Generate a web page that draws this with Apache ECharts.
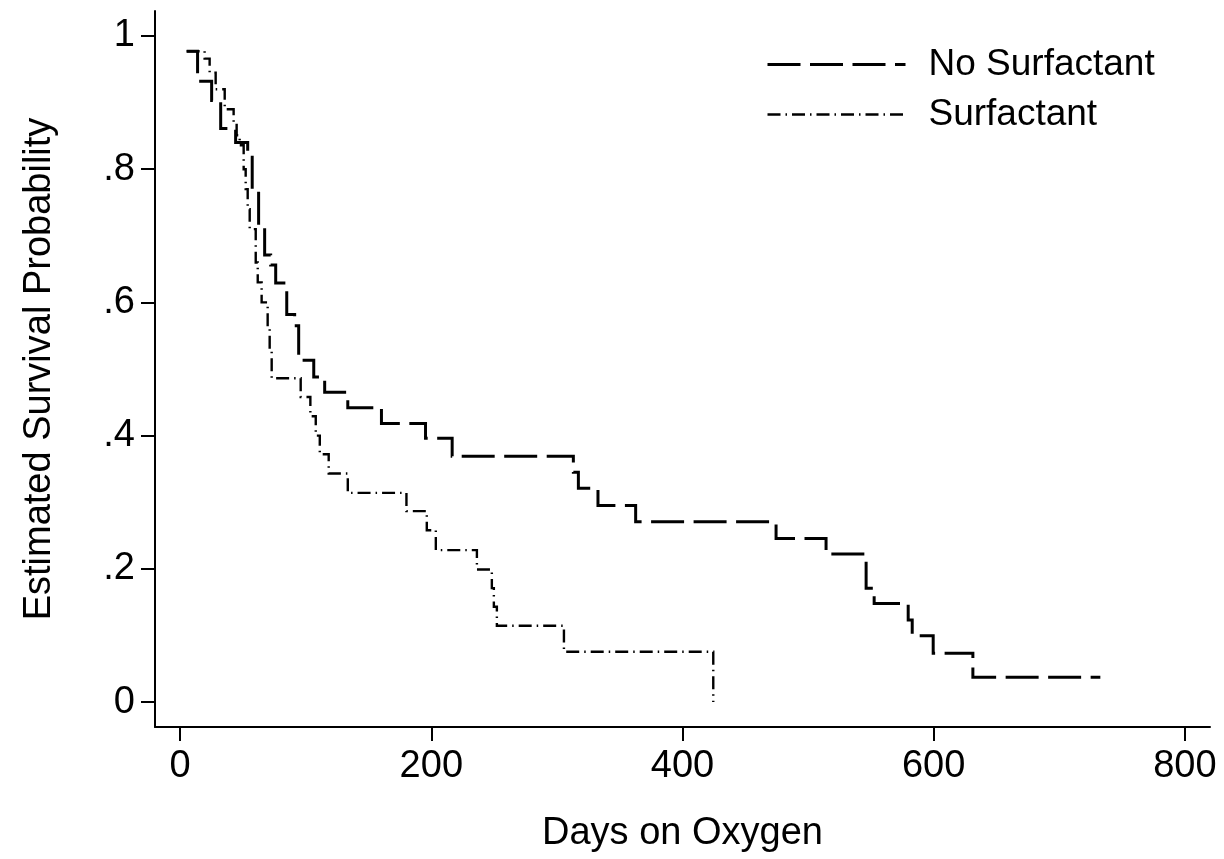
<!DOCTYPE html>
<html>
<head>
<meta charset="utf-8">
<script src="https://cdn.jsdelivr.net/npm/echarts@6/dist/echarts.min.js"></script>
<style>html,body{margin:0;padding:0;background:#fff}#chart{width:1224px;height:859px}</style>
</head>
<body>
<div id="chart"></div>
<script>
// Kaplan-Meier step data: [day, survival after that day]
const noSurfDays = [5.2, 13.9, 25.1, 32.3, 44.2, 53.8, 57.4, 62.5, 67.3, 72.1, 76.1, 84.9, 91.2, 94.4, 106.4, 115.1, 133.5, 160.3, 195.4, 216.6, 313.1, 317.1, 332.7, 362.7, 474.5, 514.3, 546.2, 552.6, 579.7, 582.9, 599.6, 631.2, 732.7];
const noSurfSurv = [0.977, 0.932, 0.903, 0.861, 0.840, 0.818, 0.770, 0.716, 0.671, 0.656, 0.629, 0.582, 0.565, 0.513, 0.488, 0.465, 0.442, 0.418, 0.396, 0.369, 0.345, 0.321, 0.295, 0.2705, 0.2456, 0.2221, 0.171, 0.148, 0.123, 0.0995, 0.0731, 0.0371, 0.0371];
const surfDays = [5.2, 19.5, 23.5, 28.3, 35.5, 42.6, 45.0, 47.4, 50.6, 52.2, 53.8, 55.4, 60.2, 61.8, 64.9, 69.7, 71.3, 72.9, 96.0, 103.7, 108.0, 111.2, 118.3, 133.5, 180.2, 196.4, 203.6, 236.3, 248.2, 249.8, 252.2, 305.6, 424.5];
const surfSurv = [0.977, 0.966, 0.945, 0.92, 0.89, 0.87, 0.851, 0.836, 0.80, 0.77, 0.74, 0.71, 0.66, 0.63, 0.60, 0.56, 0.53, 0.486, 0.458, 0.429, 0.40, 0.372, 0.343, 0.314, 0.2866, 0.258, 0.228, 0.199, 0.171, 0.143, 0.1145, 0.0755, 0];
const seriesNames = ['No Surfactant', 'Surfactant'];
const xTicks = [0, 200, 400, 600, 800];
const yTicks = [0, 0.2, 0.4, 0.6, 0.8, 1];
const yTickLabels = ['0', '.2', '.4', '.6', '.8', '1'];
const xTitle = 'Days on Oxygen';
const yTitle = 'Estimated Survival Probability';

const zip = (a, b) => a.map((v, i) => [v, b[i]]);
const FONT = '"Liberation Sans", Arial, Helvetica, sans-serif';
const thickStyle = {color: '#000', width: 3, type: [33, 9.5], cap: 'butt', join: 'miter'};
const thinStyle = {color: '#000', width: 2.4, type: [13, 5, 1.5, 5], cap: 'butt', join: 'miter'};
const chart = echarts.init(document.getElementById('chart'), null, {renderer: 'canvas'});
chart.setOption({
  animation: false,
  backgroundColor: '#fff',
  textStyle: {fontFamily: FONT, color: '#000'},
  grid: {left: 155, right: 14, top: 11, bottom: 132, containLabel: false},
  legend: {
    show: true, orient: 'vertical', left: 761, top: 41, itemWidth: 138, itemHeight: 14, itemGap: 13,
    data: [
      {name: seriesNames[0], lineStyle: thickStyle},
      {name: seriesNames[1], lineStyle: thinStyle}
    ],
    itemStyle: {opacity: 0},
    textStyle: {fontFamily: FONT, fontSize: 37, color: '#000', padding: [0, 0, 0, 18]}
  },
  xAxis: {
    type: 'value', min: -20, max: 820,
    name: xTitle, nameLocation: 'middle', nameGap: 88,
    nameTextStyle: {fontFamily: FONT, fontSize: 38, color: '#000'},
    axisLine: {show: true, onZero: false, lineStyle: {color: '#000', width: 2}},
    axisTick: {show: true, length: 14, lineStyle: {color: '#000', width: 2}, customValues: xTicks},
    axisLabel: {fontFamily: FONT, fontSize: 38, color: '#000', margin: 21, customValues: xTicks},
    splitLine: {show: false}
  },
  yAxis: {
    type: 'value', min: -0.0375, max: 1.0375,
    name: yTitle, nameLocation: 'middle', nameGap: 96,
    nameTextStyle: {fontFamily: FONT, fontSize: 38, color: '#000'},
    axisLine: {show: true, onZero: false, lineStyle: {color: '#000', width: 2}},
    axisTick: {show: true, length: 14, lineStyle: {color: '#000', width: 2}, customValues: yTicks},
    axisLabel: {fontFamily: FONT, fontSize: 38, color: '#000', margin: 20, customValues: yTicks,
      formatter: v => { const i = yTicks.findIndex(t => Math.abs(t - v) < 1e-9); return i >= 0 ? yTickLabels[i] : ''; }},
    splitLine: {show: false}
  },
  series: [
    {
      name: seriesNames[0], type: 'line', step: 'end', showSymbol: false, symbol: 'none',
      data: zip(noSurfDays, noSurfSurv),
      lineStyle: thickStyle,
      itemStyle: {color: '#000'}
    },
    {
      name: seriesNames[1], type: 'line', step: 'end', showSymbol: false, symbol: 'none',
      data: zip(surfDays, surfSurv),
      lineStyle: thinStyle,
      itemStyle: {color: '#000'}
    }
  ]
});
</script>
</body>
</html>
